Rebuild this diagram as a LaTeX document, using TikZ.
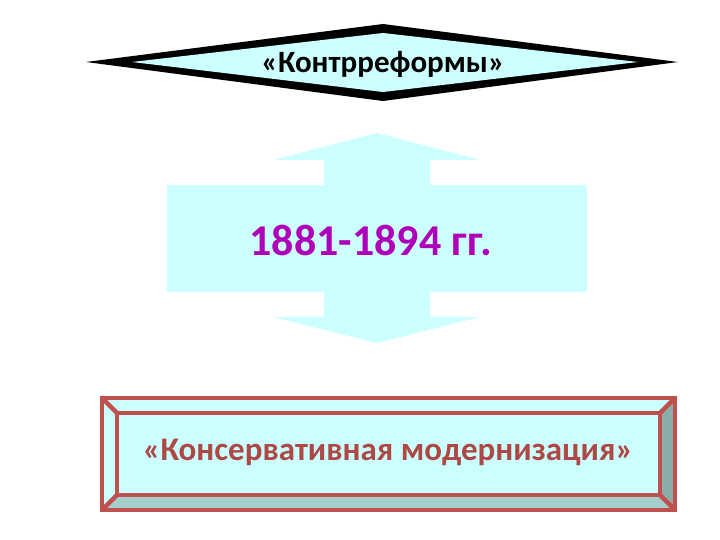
\documentclass[tikz,border=0pt]{standalone}
\usepackage{fontspec}
\setmainfont{Carlito}
\definecolor{lcyan}{RGB}{204,255,255}
\definecolor{brick}{RGB}{192,80,77}
\definecolor{teal2}{RGB}{140,172,170}
\definecolor{mag}{RGB}{175,0,185}
\begin{document}
\begin{tikzpicture}[x=1pt,y=-1pt,
  lbl/.style={inner sep=0pt,anchor=center}]
\useasboundingbox (0,0) rectangle (720,540);
% top diamond
\fill[black] (86,62) -- (383,24) -- (678,62) -- (383,101) -- cycle;
\fill[lcyan] (132,62) -- (383,33) -- (638,62) -- (383,92) -- cycle;
\node[lbl] (top) at (383,64) {\fontsize{31}{36}\selectfont\bfseries «Контрреформы»};
% double arrow
\fill[lcyan] (167,185) -- (324,185) -- (324,160) -- (273,160) -- (377,133) -- (480,160) -- (430,160) -- (430,185) -- (587,185)
  -- (587,292) -- (430,292) -- (430,317) -- (480,317) -- (377,343) -- (273,317) -- (324,317) -- (324,292) -- (167,292) -- cycle;
\node[lbl,text=mag] (mid) at (371,240) {\fontsize{44}{48}\selectfont\bfseries 1881-1894 гг.};
% bottom beveled box
\fill[lcyan] (102,398) rectangle (675,510);
\fill[teal2] (675,398) -- (660,413) -- (660,495) -- (675,510) -- cycle;
\fill[teal2!60!lcyan] (102,510) -- (117,495) -- (660,495) -- (675,510) -- cycle;
\draw[brick,line width=4.5pt] (102,398) rectangle (675,510);
\draw[brick,line width=4.5pt] (117,413) rectangle (660,495);
\draw[brick,line width=4.5pt] (102,398) -- (117,413) (675,398) -- (660,413) (102,510) -- (117,495) (675,510) -- (660,495);
\node[lbl,text=brick!90!black] (bot) at (388,452) {\fontsize{33}{38}\selectfont\bfseries «Консервативная модернизация»};
\end{tikzpicture}
\end{document}
